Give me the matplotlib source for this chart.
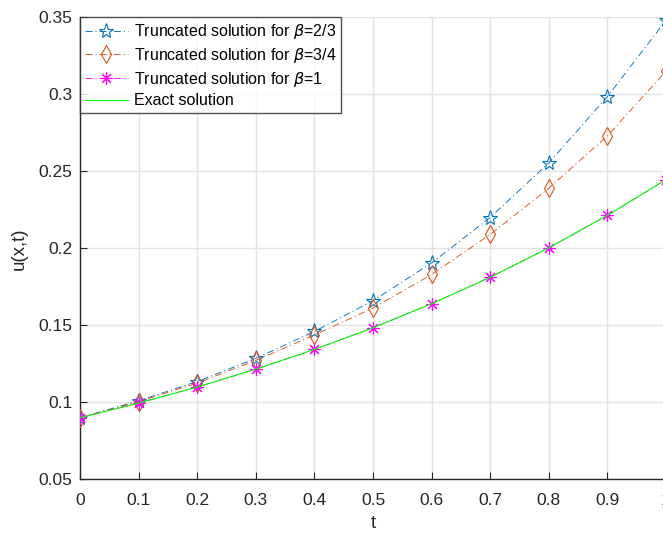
import numpy as np
import matplotlib
matplotlib.use('Agg')
import matplotlib.pyplot as plt

plt.rcParams['font.family'] = ['Liberation Sans', 'DejaVu Sans']
plt.rcParams['mathtext.fontset'] = 'dejavusans'
plt.rcParams['lines.scale_dashes'] = False

# %%
# values
t = [0, 0.1, 0.2, 0.3, 0.4, 0.5, 0.6, 0.7, 0.8, 0.9, 1.0]
u_23 = [0.0900, 0.1010, 0.1135, 0.1285, 0.1460, 0.1660, 0.1905, 0.2200, 0.2555, 0.2985, 0.3480]
u_34 = [0.0900, 0.1005, 0.1125, 0.1272, 0.1437, 0.1612, 0.1830, 0.2090, 0.2390, 0.2730, 0.3150]
u_1 = [0.0900, 0.0995, 0.1099, 0.1215, 0.1343, 0.1484, 0.1640, 0.1812, 0.2003, 0.2214, 0.2446]
u_exact = [0.0900, 0.0995, 0.1099, 0.1215, 0.1343, 0.1484, 0.1640, 0.1812, 0.2003, 0.2214, 0.2446]

xticks = [0, 0.1, 0.2, 0.3, 0.4, 0.5, 0.6, 0.7, 0.8, 0.9, 1]
yticks = [0.05, 0.1, 0.15, 0.2, 0.25, 0.3, 0.35]

# %%
W, H = 663, 535
fig = plt.figure(figsize=(W / 100, H / 100), dpi=100)
ax = fig.add_axes([80 / W, (H - 479.3) / H, 586 / W, 462 / H])

dashdot = (0, (5, 2.2, 0.8, 2.2))
lw = 0.65
ax.plot(t, u_23, linestyle=dashdot, linewidth=lw, color='#0072BD',
        marker='*', markersize=11, markerfacecolor='none',
        markeredgewidth=0.8, label=r'Truncated solution for $\beta$=2/3',
        zorder=3)
ax.plot(t, u_34, linestyle=dashdot, linewidth=lw, color='#D95319',
        marker='d', markersize=9, markerfacecolor='none',
        markeredgewidth=0.8, label=r'Truncated solution for $\beta$=3/4',
        zorder=3)
ax.plot(t, u_1, linestyle=dashdot, linewidth=lw, color='#FF00FF',
        marker=(8, 2, 0), markersize=9, markeredgewidth=0.8,
        label=r'Truncated solution for $\beta$=1', zorder=3)
ax.plot(t, u_exact, '-', color='#00FF00', linewidth=0.8,
        label='Exact solution', zorder=4)

ax.set_xlim(0, 1)
ax.set_ylim(0.05, 0.35)
ax.set_xticks(xticks)
ax.set_xticklabels(['0', '0.1', '0.2', '0.3', '0.4', '0.5', '0.6', '0.7',
                    '0.8', '0.9', '1'])
ax.set_yticks(yticks)
ax.set_yticklabels(['0.05', '0.1', '0.15', '0.2', '0.25', '0.3', '0.35'])
ax.tick_params(direction='in', length=5, labelsize=12.5, colors='#262626')
ax.tick_params(axis='x', pad=10)
ax.tick_params(axis='y', pad=5.5)
ax.grid(True, color='#E3E3E3', linewidth=1)
ax.set_axisbelow(True)
for s in ['top', 'right']:
    ax.spines[s].set_visible(False)
for s in ['left', 'bottom']:
    ax.spines[s].set_color('#262626')
    ax.spines[s].set_linewidth(1)

ax.set_xlabel('t', fontsize=13.5, color='#262626', labelpad=5)
ax.set_ylabel('u(x,t)', fontsize=13.5, color='#262626', labelpad=8)

leg = ax.legend(loc='upper left', fontsize=11.5, frameon=True, fancybox=False,
                borderaxespad=0, handlelength=2.7, handletextpad=0.35,
                borderpad=0.3, labelspacing=0.3)
leg.get_frame().set_edgecolor('#262626')
leg.get_frame().set_linewidth(1)

fig.savefig('out.png', dpi=100)
